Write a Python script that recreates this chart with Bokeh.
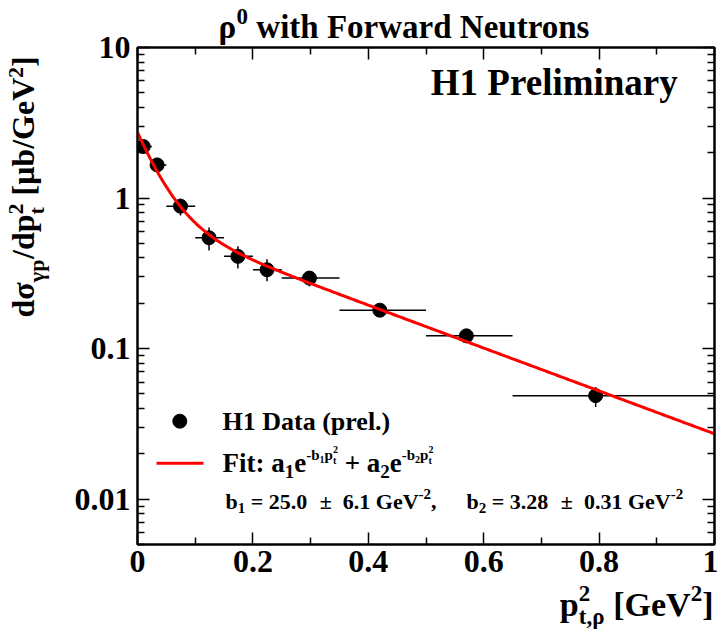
import numpy as np
from bokeh.plotting import figure
from bokeh.models import Range1d, FixedTicker, LinearAxis, LogAxis, ColumnDataSource
from bokeh.core.properties import value
from bokeh.embed import file_html
from bokeh.resources import INLINE

# ---------------- data ----------------
pt2 = [0.010, 0.034, 0.0745, 0.124, 0.174, 0.2245, 0.298, 0.420, 0.570, 0.794]
pt2_lo = [0.0, 0.025, 0.05, 0.10, 0.15, 0.20, 0.25, 0.35, 0.50, 0.65]
pt2_hi = [0.025, 0.05, 0.10, 0.15, 0.20, 0.25, 0.35, 0.50, 0.65, 1.00]
dsig = [2.20, 1.66, 0.883, 0.545, 0.410, 0.334, 0.294, 0.180, 0.1216, 0.0487]
dsig_lo = [2.01, 1.49, 0.766, 0.449, 0.341, 0.280, 0.259, 0.164, 0.112, 0.041]
dsig_hi = [2.42, 1.84, 0.992, 0.638, 0.478, 0.392, 0.311, 0.197, 0.1306, 0.0556]

fit_a1, fit_b1 = 2.01, 25.0
fit_a2, fit_b2 = 0.722, 3.28

x_ticks = [0.0, 0.2, 0.4, 0.6, 0.8, 1.0]
x_tick_labels = ["0", "0.2", "0.4", "0.6", "0.8", "1"]
x_minor = [0.1, 0.3, 0.5, 0.7, 0.9]
y_ticks = [0.01, 0.1, 1.0, 10.0]
y_tick_labels = ["0.01", "0.1", "1", "10"]

# ---------------- layout ----------------
FONT = "Liberation Serif"
XMIN, XMAX = 0.0, 1.0
YMIN, YMAX = 0.005, 10.0
FL, FT, FW, FH = 137.0, 47.0, 577.0, 497.0  # frame in canvas pixels
K_H, K_R = 0.34, 0.60  # baseline correction (fraction of font size)


def X(px):
    return XMIN + (px - FL) / FW * (XMAX - XMIN)


def Y(py):
    lmin, lmax = np.log10(YMIN), np.log10(YMAX)
    return 10 ** (lmax - (py - FT) / FH * (lmax - lmin))


TB = {' ': 250, '(': 333, ')': 333, ',': 250, '-': 333, '.': 250, '/': 278, ':': 333,
      '=': 570, '+': 570, '±': 570, '[': 333, ']': 333,
      'A': 722, 'D': 722, 'F': 611, 'G': 778, 'H': 778, 'N': 722, 'P': 611, 'V': 722,
      'a': 500, 'b': 556, 'd': 556, 'e': 444, 'h': 556, 'i': 278, 'l': 278, 'm': 833,
      'n': 556, 'o': 500, 'p': 556, 'r': 444, 's': 389, 't': 333, 'u': 556, 'w': 722,
      'y': 500, 'ρ': 549, 'σ': 549, 'γ': 500, 'μ': 556}
for d in "0123456789":
    TB[d] = 500


def tw(s, size):
    return sum(TB.get(c, 550) for c in s) / 1000.0 * size


def rich_width(parts):
    pos, pend = 0.0, 0.0
    for part in parts:
        text, size = part[0], part[1]
        adv = part[3] if len(part) > 3 else True
        w = size if text is None else tw(text, size)
        if adv:
            pos += max(w, pend)
            pend = 0.0
        else:
            pend = w
    return pos


def rich(p, x0, y0, parts, angle=0.0):
    """Draw a run of text pieces (text, size, rise[, advance]) as one text glyph."""
    cols = dict(x=[], y=[], text=[], fs=[])
    pos, pend = 0.0, 0.0
    for part in parts:
        text, size, rise = part[0], part[1], part[2]
        adv = part[3] if len(part) > 3 else True
        if text is None:
            w = size
        else:
            w = tw(text, size)
            lead = tw(text[:len(text) - len(text.lstrip())], size)
            if angle == 0.0:
                px, py = x0 + pos + lead, y0 - rise - K_H * size
            else:
                px, py = x0 - rise - K_R * size, y0 - pos - lead
            cols["x"].append(X(px))
            cols["y"].append(Y(py))
            cols["text"].append(text.strip())
            cols["fs"].append(f"{size}px")
        if adv:
            pos += max(w, pend)
            pend = 0.0
        else:
            pend = w
    p.text(x="x", y="y", text="text", source=ColumnDataSource(cols), text_font=value(FONT),
           text_font_style="bold", text_font_size="fs", text_color="black",
           text_baseline="alphabetic", text_align="left", angle=angle, level="overlay")


p = figure(width=718, height=632, x_range=Range1d(XMIN, XMAX), y_range=Range1d(YMIN, YMAX),
           y_axis_type="log", output_backend="svg", toolbar_location=None,
           min_border_left=137, min_border_right=4, min_border_top=47, min_border_bottom=88)
p.xgrid.visible = False
p.ygrid.visible = False
p.outline_line_color = "black"
p.outline_line_width = 2
p.background_fill_color = "white"
p.border_fill_color = "white"

xt = FixedTicker(ticks=x_ticks, minor_ticks=x_minor)
y_minor = [m * 10.0 ** e for e in range(-3, 1) for m in range(2, 10)]
yt = FixedTicker(ticks=y_ticks, minor_ticks=y_minor)


def style_axis(ax, labels):
    ax.axis_line_width = 2
    ax.axis_line_color = "black"
    ax.major_tick_in = 12
    ax.major_tick_out = 0
    ax.minor_tick_in = 7
    ax.minor_tick_out = 0
    ax.major_tick_line_width = 1.5
    ax.minor_tick_line_width = 1.5
    ax.major_tick_line_color = "black"
    ax.minor_tick_line_color = "black"
    ax.major_label_text_font = FONT
    ax.major_label_text_font_style = "bold"
    ax.major_label_text_color = "black"
    ax.major_label_overrides = labels
    ax.axis_label = None


xa = p.xaxis[0]
xa.ticker = xt
style_axis(xa, dict(zip(x_ticks, x_tick_labels)))
xa.major_label_text_font_size = "32px"
xa.major_label_standoff = 6

ya = p.yaxis[0]
ya.ticker = yt
style_axis(ya, dict(zip(y_ticks, y_tick_labels)))
ya.major_label_text_font_size = "32px"
ya.major_label_standoff = 7

top = LinearAxis(ticker=xt)
style_axis(top, {t: "" for t in x_ticks})
top.major_label_text_font_size = "1px"
top.major_label_standoff = 0
p.add_layout(top, "above")

right = LogAxis(ticker=yt)
style_axis(right, {t: "" for t in y_ticks})
right.major_label_text_font_size = "1px"
right.major_label_standoff = 0
p.add_layout(right, "right")

# ---------------- data marks ----------------
p.segment(pt2_lo, dsig, pt2_hi, dsig, line_color="black", line_width=1.5)
p.segment(pt2, dsig_lo, pt2, dsig_hi, line_color="black", line_width=1.5)
p.scatter(pt2, dsig, size=14, color="black")

xf = np.linspace(XMIN, XMAX, 400)
yf = fit_a1 * np.exp(-fit_b1 * xf) + fit_a2 * np.exp(-fit_b2 * xf)
p.line(xf, yf, line_color="#ff0000", line_width=3)

# ---------------- legend ----------------
p.scatter([X(179.3)], [Y(420.7)], size=14, color="black")
p.line([X(156), X(203)], [Y(462.7), Y(462.7)], line_color="#ff0000", line_width=3)
rich(p, 222, 430, [("H1 Data (prel.)", 26, 0)])
exp1 = [("-b", 15, 12), ("1", 10, 9), ("p", 15, 12), ("2", 10, 19, False), ("t", 10, 8)]
exp2 = [("-b", 15, 12), ("2", 10, 9), ("p", 15, 12), ("2", 10, 19, False), ("t", 10, 8)]
rich(p, 222, 471.5, [("Fit: a", 27, 0), ("1", 19, -6), ("e", 27, 0)] + exp1 +
     [(" + a", 27, 0), ("2", 19, -6), ("e", 27, 0)] + exp2)
rich(p, 225, 508, [("b", 22, 0), ("1", 15, -5), (" = 25.0", 22, 0), (None, 7, 0), (" ±", 22, 0),
                   (None, 5, 0), (" 6.1 GeV", 22, 0), ("-2", 15, 9), (",", 22, 0), (None, 30, 0),
                   ("b", 22, 0), ("2", 15, -5), (" = 3.28", 22, 0), (None, 7, 0), (" ±", 22, 0),
                   (None, 5, 0), (" 0.31 GeV", 22, 0), ("-2", 15, 9)])

rich(p, 678 - tw("H1 Preliminary", 37), 95, [("H1 Preliminary", 37, 0)])

# ---------------- title and axis titles ----------------
rich(p, 218, 38, [("ρ", 33, 0), ("0", 23, 14), (" with Forward Neutrons", 33, 0)])

ylab = [("dσ", 32, 0), ("γp", 22, -7), ("/dp", 32, 0), ("2", 22, 13, False), ("t", 22, -7),
        (" [μb/GeV", 32, 0), ("2", 22, 13), ("]", 32, 0)]
rich(p, 42, 317, ylab, angle=np.pi / 2)

xlab = [("p", 34, 0), ("2", 23, 15, False), ("t,ρ", 23, -8), (" [GeV", 34, 0), ("2", 23, 15),
        ("]", 34, 0)]
rich(p, 713 - rich_width(xlab), 616, xlab)

open("out.html", "w").write(file_html(p, INLINE))
